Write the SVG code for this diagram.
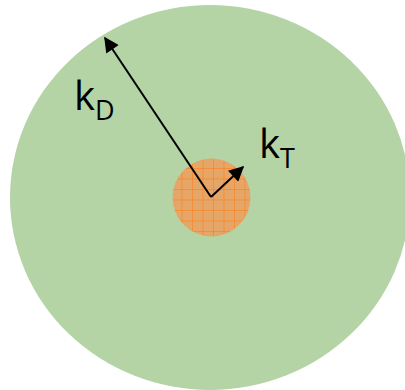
<svg xmlns="http://www.w3.org/2000/svg" width="405" height="390" viewBox="0 0 405 390">
<style>
.lbl{font-family:"Open Sans","DejaVu Sans",sans-serif;fill:#000}
.arr{stroke:#000;stroke-width:2;fill:none;marker-end:url(#ah)}
</style>
<defs>
<marker id="ah" viewBox="0 0 10 10" refX="9" refY="5" markerWidth="9" markerHeight="7.5" markerUnits="strokeWidth" orient="auto">
<path d="M0,0 L10,5 L0,10 z" fill="#000"/>
</marker>
<pattern id="grid" width="10.5" height="10.5" patternUnits="userSpaceOnUse" x="3" y="0">
<rect width="10.5" height="10.5" fill="#E6A668"/>
<path d="M0,0.4 H10.5 M0.4,0 V10.5" stroke="#F5862A" stroke-width="0.8"/>
</pattern>
</defs>
<g id="outer"><ellipse cx="210" cy="197.5" rx="200" ry="192.5" fill="#B4D4A6"/></g>
<g id="inner"><circle cx="211.5" cy="197.5" r="39" fill="url(#grid)"/></g>
<g id="connectors">
<line class="arr" x1="211" y1="197" x2="105" y2="38"/>
<line class="arr" x1="211" y1="197" x2="243" y2="167"/>
</g>
<g id="label-kD"><text class="lbl" x="74" y="110" font-size="40">k<tspan font-size="27" dy="10">D</tspan></text></g>
<g id="label-kT"><text class="lbl" x="259" y="158" font-size="40">k<tspan font-size="27" dy="10">T</tspan></text></g>
</svg>
